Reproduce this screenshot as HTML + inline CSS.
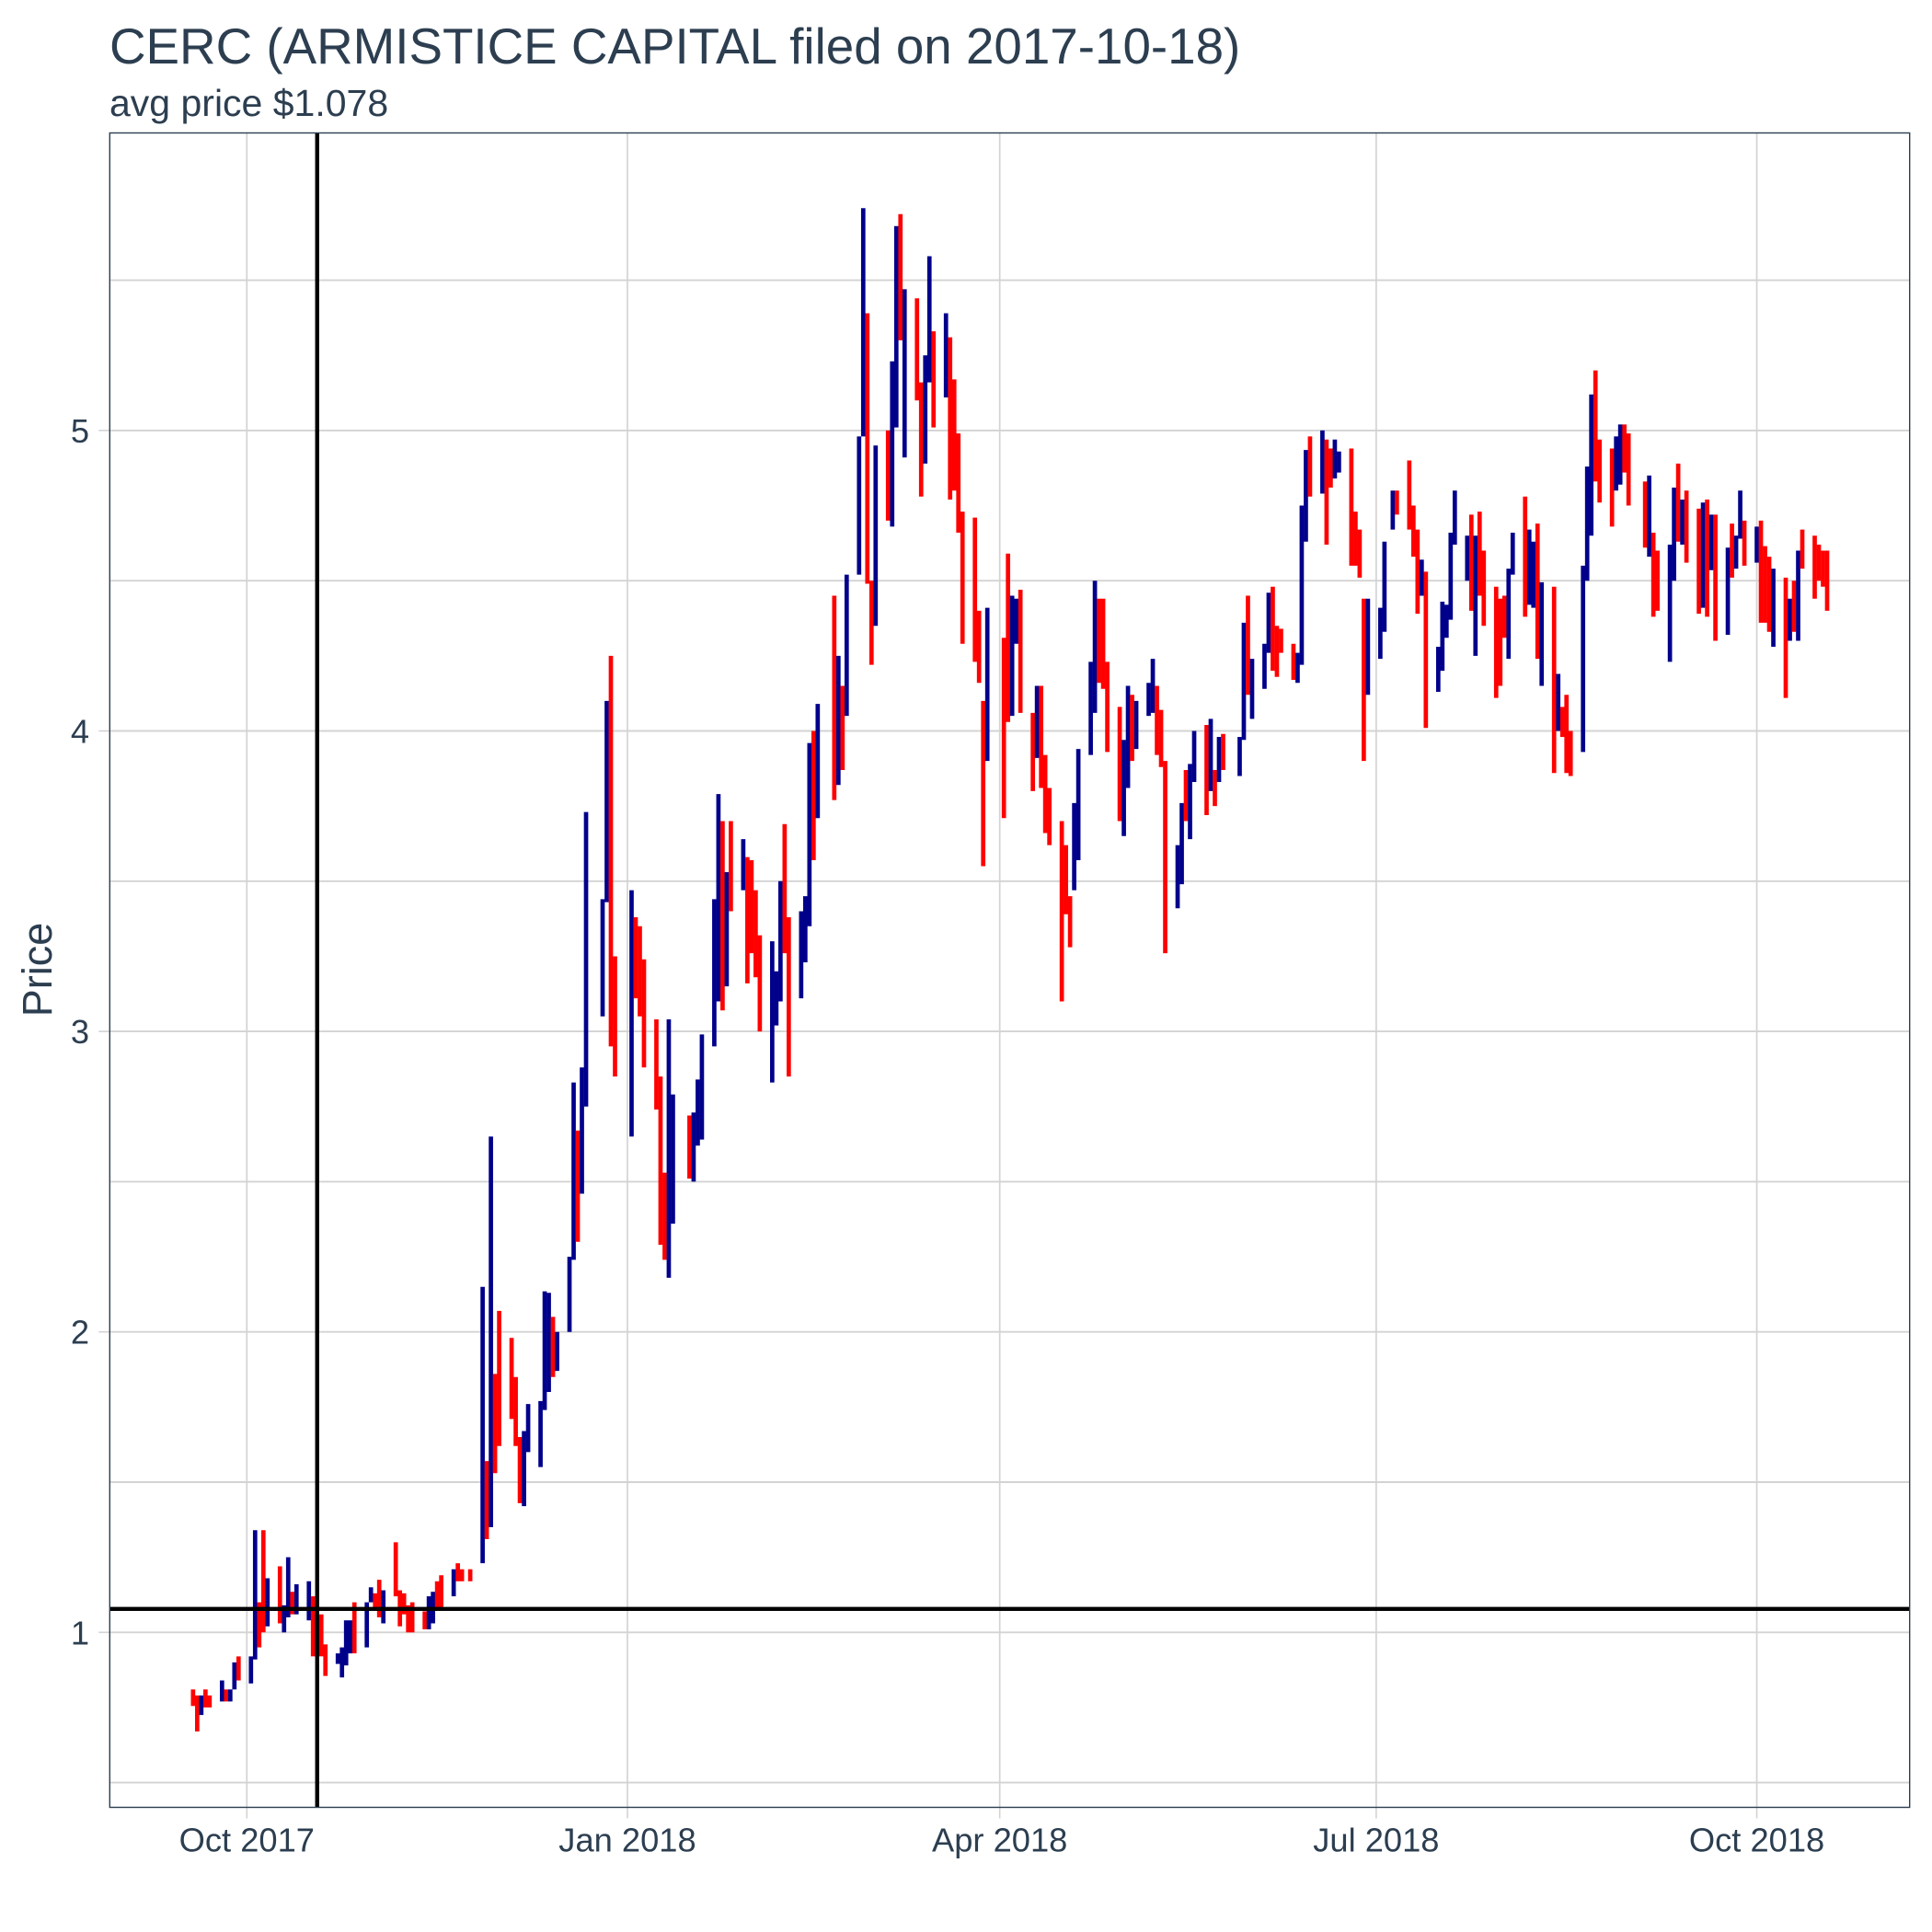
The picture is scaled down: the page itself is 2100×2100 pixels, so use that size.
<!DOCTYPE html>
<html lang="en">
<head>
<meta charset="utf-8">
<title>CERC (ARMISTICE CAPITAL filed on 2017-10-18)</title>
<style>
html,body{margin:0;padding:0;background:#fff;}
svg{display:block;}
text{font-family:"Liberation Sans",Arial,sans-serif;fill:#2c3e50;}
</style>
</head>
<body>
<svg id="chart" xmlns="http://www.w3.org/2000/svg" width="2100" height="2100" viewBox="0 0 2100 2100">
  <rect x="0" y="0" width="2100" height="2100" fill="#ffffff"/>
  <text x="119" y="69" font-size="54.75">CERC (ARMISTICE CAPITAL filed on 2017-10-18)</text>
  <text x="119" y="126" font-size="41">avg price $1.078</text>
  <text transform="translate(56,1054) rotate(-90)" text-anchor="middle" font-size="45">Price</text>
  <g id="grid"></g>
  <g id="ticks"></g>
  <g id="bars"></g>
  <g id="refs"></g>
  <rect x="119.3" y="144.5" width="1956.4" height="1820" fill="none" stroke="#2c3e50" stroke-width="1.4"/>
</svg>
<script>
// Trading days, as days since 2017-10-01
const tradingDays = [
-13,-12,-11,-10,-9,-6,-5,-4,-3,-2,
1,2,3,4,5,8,9,10,11,12,
15,16,17,18,19,22,23,24,25,26,
29,30,31,32,33,36,37,38,39,40,
43,44,45,46,47,50,51,52,54,57,
58,59,60,61,64,65,66,67,68,71,
72,73,74,75,78,79,80,81,82,86,
87,88,89,93,94,95,96,99,100,101,
102,103,107,108,109,110,113,114,115,116,
117,120,121,122,123,124,127,128,129,130,
131,134,135,136,137,138,142,143,144,145,
148,149,150,151,152,155,156,157,158,159,
162,163,164,165,166,169,170,171,172,173,
176,177,178,179,183,184,185,186,187,190,
191,192,193,194,197,198,199,200,201,204,
205,206,207,208,211,212,213,214,215,218,
219,220,221,222,225,226,227,228,229,232,
233,234,235,236,240,241,242,243,246,247,
248,249,250,253,254,255,256,257,260,261,
262,263,264,267,268,269,270,271,274,275,
277,278,281,282,283,284,285,288,289,290,
291,292,295,296,297,298,299,302,303,304,
305,306,309,310,311,312,313,316,317,318,
319,320,323,324,325,326,327,330,331,332,
333,334,338,339,340,341,344,345,346,347,
348,351,352,353,354,355,358,359,360,361,
362,365,366,367,368,369,372,373,374,375,
376,379,380,381,382
];
const highPrices = [
.81,.79,.79,.81,.79,.84,.81,.81,.90,.92,
.92,1.34,1.10,1.34,1.18,1.22,1.09,1.25,1.135,1.16,
1.17,1.12,1.06,1.06,.96,.93,.95,1.04,1.04,1.10,
1.10,1.15,1.13,1.175,1.14,1.30,1.14,1.13,1.09,1.10,
1.07,1.12,1.135,1.17,1.19,1.21,1.23,1.21,1.21,2.15,
1.57,2.65,1.86,2.07,1.98,1.85,1.65,1.67,1.76,1.77,
2.135,2.13,2.05,2.00,2.25,2.83,2.67,2.88,3.73,3.44,
4.10,4.25,3.25,3.47,3.38,3.35,3.24,3.04,2.85,2.53,
3.04,2.79,2.72,2.73,2.84,2.99,3.44,3.79,3.70,3.53,
3.70,3.64,3.58,3.57,3.47,3.32,3.30,3.20,3.50,3.69,
3.38,3.40,3.45,3.96,4.00,4.09,4.45,4.25,4.15,4.52,
4.98,5.74,5.39,4.50,4.95,5.00,5.23,5.68,5.72,5.47,
5.44,5.16,5.25,5.58,5.33,5.39,5.31,5.17,4.99,4.73,
4.71,4.40,4.10,4.41,4.31,4.59,4.45,4.44,4.47,4.06,
4.15,4.15,3.92,3.81,3.70,3.62,3.45,3.76,3.94,4.23,
4.50,4.44,4.44,4.23,4.08,3.97,4.15,4.12,4.10,4.16,
4.24,4.15,4.07,3.90,3.62,3.76,3.87,3.89,4.00,4.02,
4.04,3.87,3.98,3.99,3.98,4.36,4.45,4.24,4.29,4.46,
4.48,4.35,4.34,4.29,4.26,4.75,4.935,4.98,5.00,4.97,
4.94,4.97,4.93,4.94,4.73,4.67,4.44,4.44,4.41,4.63,
4.80,4.80,4.90,4.75,4.67,4.57,4.53,4.28,4.43,4.42,
4.66,4.80,4.65,4.72,4.65,4.73,4.60,4.48,4.44,4.45,
4.54,4.66,4.78,4.67,4.63,4.69,4.495,4.48,4.19,4.08,
4.12,4.00,4.55,4.88,5.12,5.20,4.97,4.94,4.98,5.02,
5.02,4.99,4.83,4.85,4.66,4.60,4.62,4.81,4.89,4.77,
4.80,4.74,4.76,4.77,4.72,4.72,4.61,4.69,4.65,4.80,
4.70,4.68,4.70,4.615,4.58,4.54,4.51,4.44,4.50,4.60,
4.67,4.65,4.62,4.60,4.60
];
const lowPrices = [
.755,.67,.725,.75,.75,.77,.77,.77,.81,.84,
.83,.91,.95,1.00,1.02,1.03,1.00,1.05,1.06,1.06,
1.04,.92,.92,.92,.855,.895,.85,.89,.93,.93,
.95,1.10,1.08,1.05,1.03,1.12,1.02,1.06,1.00,1.00,
1.01,1.01,1.03,1.08,1.08,1.12,1.17,1.17,1.17,1.23,
1.31,1.35,1.53,1.62,1.71,1.62,1.43,1.42,1.60,1.55,
1.74,1.80,1.85,1.87,2.00,2.24,2.30,2.46,2.75,3.05,
3.43,2.95,2.85,2.65,3.11,3.05,2.88,2.74,2.29,2.24,
2.18,2.36,2.51,2.50,2.62,2.64,2.95,3.10,3.07,3.15,
3.40,3.47,3.16,3.26,3.18,3.00,2.83,3.02,3.10,3.26,
2.85,3.11,3.23,3.35,3.57,3.71,3.77,3.82,3.87,4.05,
4.52,4.98,4.49,4.22,4.35,4.70,4.68,5.01,5.30,4.91,
5.10,4.78,4.89,5.16,5.01,5.11,4.77,4.80,4.66,4.29,
4.23,4.16,3.55,3.90,3.71,4.03,4.05,4.29,4.06,3.80,
3.91,3.81,3.66,3.62,3.10,3.39,3.28,3.47,3.57,3.92,
4.06,4.16,4.14,3.93,3.70,3.65,3.81,3.90,3.94,4.05,
4.06,3.92,3.88,3.26,3.41,3.49,3.70,3.64,3.83,3.72,
3.80,3.75,3.83,3.87,3.85,3.97,4.12,4.04,4.14,4.26,
4.20,4.18,4.26,4.17,4.16,4.22,4.63,4.78,4.79,4.62,
4.81,4.84,4.86,4.55,4.55,4.51,3.90,4.12,4.24,4.33,
4.67,4.72,4.67,4.58,4.39,4.45,4.01,4.13,4.20,4.31,
4.37,4.62,4.50,4.40,4.25,4.45,4.35,4.11,4.15,4.31,
4.24,4.52,4.38,4.42,4.41,4.24,4.15,3.86,4.00,3.98,
3.86,3.85,3.93,4.50,4.65,4.83,4.76,4.68,4.80,4.82,
4.86,4.75,4.61,4.58,4.38,4.40,4.23,4.50,4.63,4.62,
4.56,4.39,4.41,4.38,4.535,4.30,4.32,4.51,4.54,4.64,
4.55,4.56,4.36,4.36,4.33,4.28,4.11,4.30,4.33,4.30,
4.54,4.44,4.50,4.48,4.40
];
// u = up day (dark blue), d = down day (red)
const directions = [
'd','d','u','d','d','u','d','u','u','d',
'u','u','d','d','u','d','u','u','d','u',
'u','d','u','d','d','u','u','u','u','d',
'u','u','d','d','u','d','d','d','d','d',
'd','u','u','d','d','u','d','d','d','u',
'd','u','d','d','d','d','d','u','u','u',
'u','u','d','u','u','u','d','u','u','u',
'u','d','d','u','d','d','d','d','d','d',
'u','u','d','u','u','u','u','u','d','u',
'd','u','d','d','d','d','u','u','u','d',
'd','u','u','u','d','u','d','u','d','u',
'u','u','d','d','u','d','u','u','d','u',
'd','d','u','u','d','u','d','d','d','d',
'd','d','d','u','d','d','u','u','d','d',
'u','d','d','d','d','d','d','u','u','u',
'u','d','d','d','d','u','u','d','u','u',
'u','d','d','d','u','u','d','u','u','d',
'u','d','u','d','u','u','d','u','u','u',
'd','d','d','d','u','u','u','d','u','d',
'd','u','u','d','d','d','d','u','u','u',
'u','d','d','d','d','u','d','u','u','u',
'u','u','u','d','u','d','d','d','d','d',
'u','u','d','u','u','d','u','d','u','d',
'd','d','u','u','u','d','d','d','u','u',
'd','d','d','u','d','d','u','u','d','u',
'd','d','u','d','u','d','u','d','u','u',
'd','u','d','d','d','u','d','u','d','u',
'd','d','d','d','d'
];
const xTickLabels = ['Oct 2017','Jan 2018','Apr 2018','Jul 2018','Oct 2018'];
const xTickDays = [0,92,182,273,365];
const yTickValues = [1,2,3,4,5];
const yMinorValues = [0.5,1.5,2.5,3.5,4.5,5.5];
const averagePrice = 1.078;
const filedDay = 17;

const NS = 'http://www.w3.org/2000/svg';
const panel = {left:119.3,right:2075.7,top:144.5,bottom:1964.5};
function xScale(day){ return 268.3 + day * 4.4966; }
function yScale(price){ return 1774.3 - (price - 1) * 326.6; }
function make(tag, attrs, parent){
  const el = document.createElementNS(NS, tag);
  for (const k in attrs) el.setAttribute(k, attrs[k]);
  parent.appendChild(el);
  return el;
}
const grid = document.getElementById('grid');
const ticks = document.getElementById('ticks');
const bars = document.getElementById('bars');
const refs = document.getElementById('refs');
const GRID = '#d3d3d3';

yMinorValues.forEach(function(v){
  const el = make('line',{x1:panel.left,x2:panel.right,y1:yScale(v),y2:yScale(v),stroke:GRID,'stroke-width':1.9},grid);
  
  
});
yTickValues.forEach(function(v){
  const el = make('line',{x1:panel.left,x2:panel.right,y1:yScale(v),y2:yScale(v),stroke:GRID,'stroke-width':1.9},grid);
  
  
  const tick = make('line',{x1:panel.left-12,x2:panel.left,y1:yScale(v),y2:yScale(v),stroke:GRID,'stroke-width':1.6},ticks);
  
  
  const label = make('text',{x:97,y:yScale(v)+13,'text-anchor':'end','font-size':36.3},ticks);
  
  
  label.textContent = String(v);
});
xTickDays.forEach(function(d,i){
  const el = make('line',{x1:xScale(d),x2:xScale(d),y1:panel.top,y2:panel.bottom,stroke:GRID,'stroke-width':1.7},grid);
  
  
  const tick = make('line',{x1:xScale(d),x2:xScale(d),y1:panel.bottom,y2:panel.bottom+12,stroke:GRID,'stroke-width':1.6},ticks);
  
  
  const label = make('text',{x:xScale(d),y:2012.7,'text-anchor':'middle','font-size':36.3},ticks);
  
  
  label.textContent = xTickLabels[i];
});
tradingDays.forEach(function(d,i){
  const el = make('line',{x1:xScale(d),x2:xScale(d),y1:yScale(highPrices[i]),y2:yScale(lowPrices[i]),
    stroke:directions[i]==='u'?'#00008b':'#ff0000','stroke-width':4.7},bars);
  
  
});
const avgLine = make('line',{x1:panel.left,x2:panel.right,y1:yScale(averagePrice),y2:yScale(averagePrice),stroke:'#000','stroke-width':4.4},refs);


const filedLine = make('line',{x1:xScale(filedDay),x2:xScale(filedDay),y1:panel.top,y2:panel.bottom,stroke:'#000','stroke-width':4.4},refs);


</script>
</body>
</html>
